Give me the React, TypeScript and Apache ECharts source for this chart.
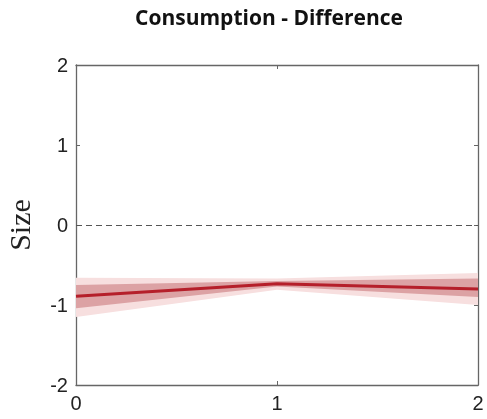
import React, { useEffect, useRef } from "react";
import * as echarts from "echarts";

const xs = ["0", "1", "2"];
const meanValues = [-0.89, -0.735, -0.8];
const innerLower = [-1.04, -0.77, -0.9];
const innerUpper = [-0.75, -0.70, -0.67];
const outerLower = [-1.15, -0.81, -1.0];
const outerUpper = [-0.66, -0.67, -0.6];
const yTicks = [-2, -1, 0, 1, 2];

export default function App() {
  const ref = useRef<HTMLDivElement>(null);
  useEffect(() => {
    if (!ref.current) return;
    const chart = echarts.init(ref.current, null, { renderer: "svg" });
    const width = (up: number[], lo: number[]) => up.map((u, i) => u - lo[i]);
    const axisColor = "#666666";
    const labelStyle = { color: "#222", fontSize: 20, fontFamily: "Liberation Sans, Arial, sans-serif" };
    const catAxis = (pos: string, labels: boolean) => ({
      type: "category", data: xs, boundaryGap: false, position: pos,
      axisLine: { show: true, onZero: false, lineStyle: { color: axisColor, width: 1.3 } },
      axisTick: { show: true, inside: true, length: 4, alignWithLabel: true, lineStyle: { color: axisColor } },
      axisLabel: labels ? { ...labelStyle, margin: 8 } : { show: false },
      splitLine: { show: false },
    });
    chart.setOption({
      animation: false,
      title: {
        text: "Consumption - Difference",
        left: 264,
        textAlign: "center",
        top: 1,
        textStyle: { fontSize: 21, fontWeight: "bold", fontFamily: "Open Sans, Noto Sans, sans-serif", color: "#111" },
      },
      grid: { left: 76, right: 9, top: 65, bottom: 34, show: false, containLabel: false, outerBoundsMode: "none" },
      xAxis: [catAxis("bottom", true), catAxis("top", false)],
      yAxis: [
        {
          type: "value", min: -2, max: 2, interval: 1,
          name: "Size", nameLocation: "middle", nameRotate: 90, nameGap: 42,
          nameTextStyle: { fontSize: 30, fontFamily: "Liberation Serif, Times New Roman, serif", color: "#222" },
          axisLine: { show: true, onZero: false, lineStyle: { color: axisColor, width: 1.3 } },
          axisTick: { show: true, inside: true, length: 4, lineStyle: { color: axisColor } },
          axisLabel: { ...labelStyle, margin: 8, formatter: (v: number) => (yTicks.includes(v) ? String(v) : "") },
          splitLine: { show: false },
        },
        {
          type: "value", min: -2, max: 2, interval: 1, position: "right",
          axisLine: { show: true, onZero: false, lineStyle: { color: axisColor, width: 1.3 } },
          axisTick: { show: true, inside: true, length: 4, lineStyle: { color: axisColor } },
          axisLabel: { show: false },
          splitLine: { show: false },
        },
      ],
      series: [
        {
          type: "line", data: outerLower, stack: "outer", stackStrategy: "all",
          symbol: "none", lineStyle: { opacity: 0 }, silent: true,
        },
        {
          type: "line", data: width(outerUpper, outerLower), stack: "outer", stackStrategy: "all",
          symbol: "none", lineStyle: { opacity: 0 }, areaStyle: { color: "#f7dfdf", opacity: 1 }, silent: true,
        },
        {
          type: "line", data: innerLower, stack: "inner", stackStrategy: "all",
          symbol: "none", lineStyle: { opacity: 0 }, silent: true,
        },
        {
          type: "line", data: width(innerUpper, innerLower), stack: "inner", stackStrategy: "all",
          symbol: "none", lineStyle: { opacity: 0 }, areaStyle: { color: "#dca2a4", opacity: 1 }, silent: true,
        },
        {
          type: "line", data: meanValues, symbol: "none",
          lineStyle: { color: "#b51f2a", width: 3 },
          markLine: {
            silent: true, symbol: "none", label: { show: false },
            lineStyle: { color: "#555", type: [6, 4], width: 1.2 },
            data: [{ yAxis: 0 }],
          },
        },
      ],
    });
    return () => chart.dispose();
  }, []);
  return <div ref={ref} style={{ position: "fixed", left: 0, top: 0, width: 487, height: 419 }} />;
}
